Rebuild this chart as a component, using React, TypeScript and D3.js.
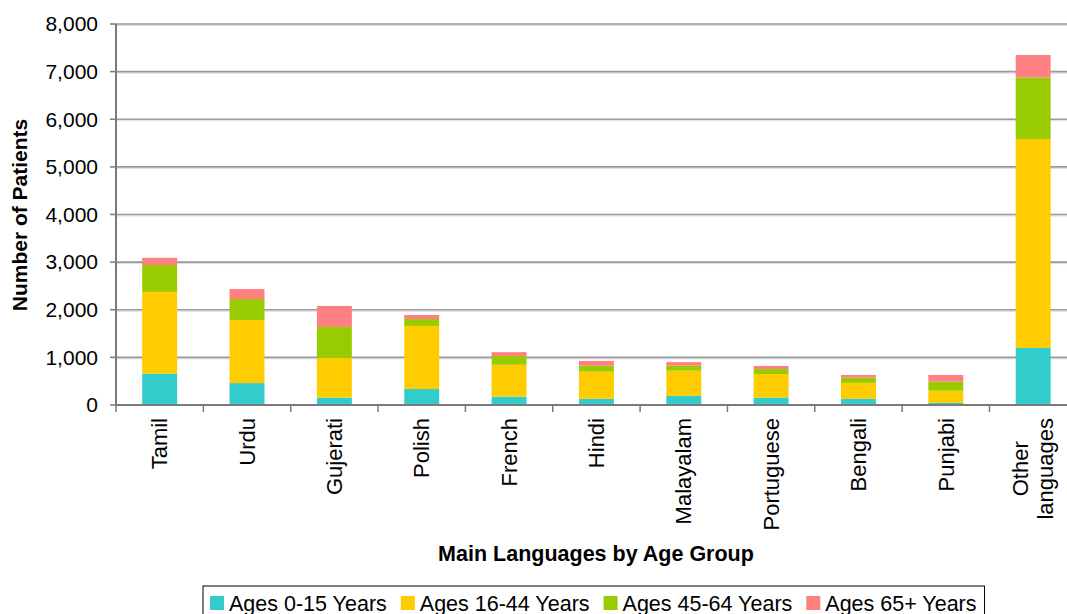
import React, { useEffect, useRef } from "react";
import * as d3 from "d3";

const categories = ["Tamil", "Urdu", "Gujerati", "Polish", "French", "Hindi", "Malayalam", "Portuguese", "Bengali", "Punjabi", "Other\nlanguages"];
const seriesNames = ["Ages 0-15 Years", "Ages 16-44 Years", "Ages 45-64 Years", "Ages 65+ Years"];
const seriesColors = ["#33CCCC", "#FFCC00", "#99CC00", "#FF8080"];
const ages0to15 = [660, 460, 155, 335, 175, 130, 195, 155, 130, 45, 1200];
const ages16to44 = [1715, 1325, 840, 1325, 670, 570, 525, 495, 335, 255, 4385];
const ages45to64 = [565, 440, 645, 145, 185, 125, 105, 105, 110, 190, 1290];
const ages65plus = [150, 210, 440, 85, 80, 100, 75, 65, 55, 140, 475];
const yTicks = [0, 1000, 2000, 3000, 4000, 5000, 6000, 7000, 8000];
const yTitle = "Number of Patients";
const xTitle = "Main Languages by Age Group";

const W = 1067;
const H = 614;
const FONT = "'Liberation Sans', Arial, sans-serif";

export default function App() {
  const ref = useRef<SVGSVGElement | null>(null);
  useEffect(() => {
    const svg = d3.select(ref.current);
    svg.selectAll("*").remove();
    const x0 = 116;
    const band = 87.35;
    const x = d3.scaleBand<string>().domain(categories).range([x0, x0 + band * categories.length]).paddingInner(0.6).paddingOuter(0.3);
    const y = d3.scaleLinear().domain([0, 8000]).range([405, 24]);

    const rows = categories.map((c, i) => ({ cat: c, s0: ages0to15[i], s1: ages16to44[i], s2: ages45to64[i], s3: ages65plus[i] }));
    const stack = d3.stack<any>().keys(["s0", "s1", "s2", "s3"]);
    const layers = stack(rows);

    // gridlines
    const g = svg.append("g");
    yTicks.filter(t => t > 0).forEach(t => {
      g.append("line").attr("x1", x0).attr("x2", W).attr("y1", y(t) + 1.5).attr("y2", y(t) + 1.5).attr("stroke", "#dcdcdc").attr("stroke-width", 1);
      g.append("line").attr("x1", x0).attr("x2", W).attr("y1", y(t)).attr("y2", y(t)).attr("stroke", "#999").attr("stroke-width", 1.6);
    });

    // bars
    layers.forEach((layer, li) => {
      svg.append("g").selectAll("rect").data(layer).join("rect")
        .attr("x", (d: any) => x(d.data.cat)!)
        .attr("width", x.bandwidth())
        .attr("y", (d: any) => y(d[1]))
        .attr("height", (d: any) => y(d[0]) - y(d[1]))
        .attr("fill", seriesColors[li]);
    });

    // axes
    const axisColor = "#7a7a7a";
    svg.append("line").attr("x1", x0).attr("x2", x0).attr("y1", y(8000)).attr("y2", y(0) + 1).attr("stroke", axisColor).attr("stroke-width", 2);
    svg.append("line").attr("x1", x0).attr("x2", W).attr("y1", y(0)).attr("y2", y(0)).attr("stroke", axisColor).attr("stroke-width", 2);
    yTicks.forEach(t => {
      svg.append("line").attr("x1", x0 - 6).attr("x2", x0).attr("y1", y(t)).attr("y2", y(t)).attr("stroke", axisColor).attr("stroke-width", 1.5);
      svg.append("text").attr("x", 98).attr("y", y(t)).attr("dy", "0.35em").attr("text-anchor", "end")
        .attr("font-family", FONT).attr("font-size", 21).attr("fill", "#000").text(d3.format(",")(t));
    });
    categories.forEach((c, i) => {
      const bx = x0 + band * i;
      svg.append("line").attr("x1", bx).attr("x2", bx).attr("y1", y(0)).attr("y2", y(0) + 7).attr("stroke", axisColor).attr("stroke-width", 1.5);
    });

    // category labels
    categories.forEach(c => {
      const cx = x(c)! + x.bandwidth() / 2;
      const lines = c.split("\n");
      const lh = 25;
      const texts = lines.map((ln, k) => {
        const lx = cx + (k - (lines.length - 1) / 2) * lh;
        return svg.append("text")
          .attr("transform", `translate(${lx},418) rotate(-90)`)
          .attr("dy", "0.35em")
          .attr("text-anchor", "end")
          .attr("font-family", FONT).attr("font-size", 22).attr("fill", "#000").text(ln);
      });
      if (lines.length > 1) {
        const lens = texts.map(t => (t.node() as SVGTextElement).getComputedTextLength());
        const maxL = Math.max(...lens);
        texts.forEach((t, k) => {
          const lx = cx + (k - (lines.length - 1) / 2) * lh;
          t.attr("text-anchor", "middle").attr("transform", `translate(${lx},${418 + maxL / 2}) rotate(-90)`);
        });
      }
    });

    // titles
    svg.append("text").attr("transform", `translate(20,215) rotate(-90)`).attr("dy", "0.35em").attr("text-anchor", "middle")
      .attr("font-family", FONT).attr("font-weight", "bold").attr("font-size", 21).text(yTitle);
    svg.append("text").attr("x", 596).attr("y", 561).attr("text-anchor", "middle")
      .attr("font-family", FONT).attr("font-weight", "bold").attr("font-size", 21.5).text(xTitle);

    // legend
    const lg = svg.append("g");
    const box = lg.append("rect").attr("x", 203).attr("y", 586).attr("height", 40).attr("fill", "#fff").attr("stroke", "#000").attr("stroke-width", 1);
    let cursor = 210;
    seriesNames.forEach((n, i) => {
      lg.append("rect").attr("x", cursor).attr("y", 596).attr("width", 14).attr("height", 14).attr("fill", seriesColors[i]);
      const t = lg.append("text").attr("x", cursor + 19).attr("y", 611).attr("font-family", FONT).attr("font-size", 21.5).text(n);
      const len = (t.node() as SVGTextElement).getComputedTextLength();
      cursor = cursor + 19 + len + 14;
    });
    box.attr("width", cursor - 203 - 6);
  }, []);
  return (
    <svg ref={ref} width={W} height={H} style={{ position: "absolute", left: 0, top: 0, background: "#fff" }} />
  );
}
